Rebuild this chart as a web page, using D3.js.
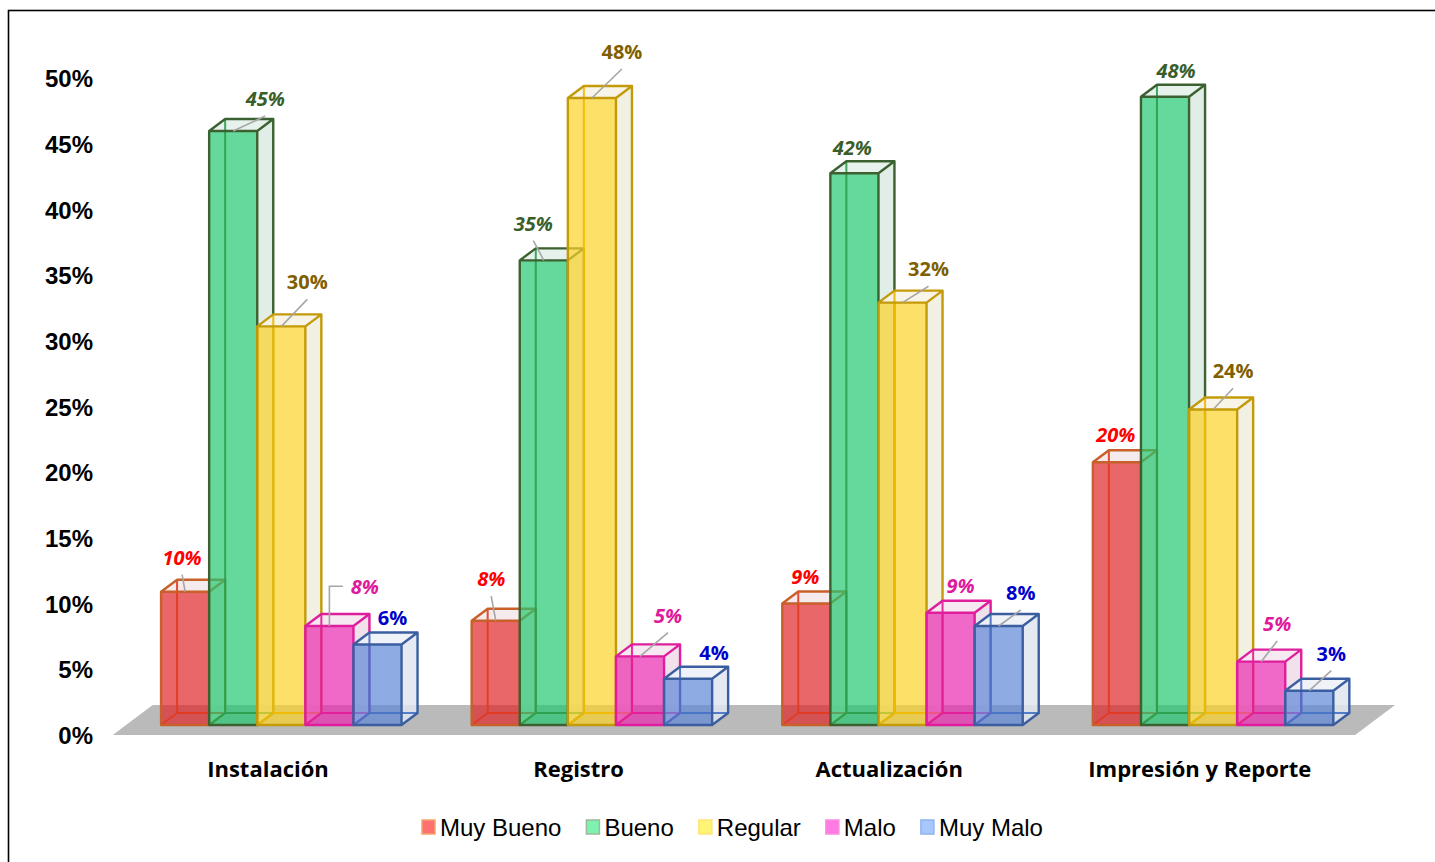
<!DOCTYPE html>
<html><head><meta charset="utf-8">
<script src="https://cdn.jsdelivr.net/npm/d3@7"></script>
<style>body{margin:0;background:#fff;} svg{display:block}</style>
</head><body>
<svg id="c" width="1435" height="862"></svg>
<script>
// ---- data ----
const categories = ["Instalación", "Registro", "Actualización", "Impresión y Reporte"];
const seriesNames = ["Muy Bueno", "Bueno", "Regular", "Malo", "Muy Malo"];
const muyBueno = [10.1, 7.9, 9.2, 19.9];
const bueno    = [45.0, 35.2, 41.8, 47.6];
const regular  = [30.2, 47.5, 32.0, 23.9];
const malo     = [7.5, 5.2, 8.5, 4.8];
const muyMalo  = [6.1, 3.5, 7.5, 2.6];
const yTicks = [0, 5, 10, 15, 20, 25, 30, 35, 40, 45, 50];

// ---- layout / style config ----
const seriesValues = [muyBueno, bueno, regular, malo, muyMalo];
const frontFill = ["#E0272A", "#24C970", "#FCD327", "#EA2AB0", "#5E88D8"];
const edgeOuter = ["#C8602A", "#3C6130", "#C49A08", "#DE1E9C", "#3A5EA0"];
const edgeInner = ["#E23A1E", "#2A9E4B", "#F2B900", "#E6199B", "#4472C4"];
const sideFill  = ["#F2E3E4", "#DCEBE3", "#F0ECDE", "#EEDCE7", "#E0E5EE"];
const topFill   = ["#F4E8EA", "#E6F1EB", "#F7F3E6", "#F5E7EF", "#EDF1F7"];
const legendFill   = ["#FF7070", "#7FF2B2", "#FFF474", "#FF7BE3", "#A6C8FF"];
const legendStroke = ["#F7A56E", "#9DB89A", "#FFE37A", "#FF8AE0", "#8FB4EC"];
const labelColor  = ["#FF0000", "#3A5E2A", "#7F6000", "#E0189C", "#0000CC"];
const labelItalic = [true, true, false, true, false];
// label offset from bar front-top centre: [dx, dy, leader]
const labelOffsets = [
  [[-3,-27,"line"], [32,-25,"line"], [26,-37,"line"], [35.5,-31.7,"elbow"], [15,-19,"none"]],
  [[-4.5,-34.7,"line"], [-10.5,-29.7,"line"], [30,-39,"line"], [28,-33.7,"line"], [26,-19,"none"]],
  [[-1,-20,"none"], [-2,-18.7,"none"], [26,-26.3,"line"], [10,-20,"none"], [22,-26,"line"]],
  [[-1,-20,"none"], [11,-18.3,"none"], [20,-31.3,"line"], [16,-30.7,"line"], [22,-30,"line"]]
];

const svg = d3.select("#c");
svg.append("rect").attr("x", 8.5).attr("y", 10.5).attr("width", 1450).attr("height", 880)
  .attr("fill", "#fff").attr("stroke", "#000").attr("stroke-width", 1.6);

const dX = 16, dY = 12;              // bar depth projection
const fFront = [-13.3, 10], fBack = [26.7, -20]; // floor edges relative to bar front plane

const x0 = d3.scaleBand().domain(categories).range([126, 1368.4]).paddingInner(0.2258).paddingOuter(0.1129);
const x1 = d3.scaleBand().domain(seriesNames).range([0, x0.bandwidth()]);
const y = d3.scaleLinear().domain([0, 50]).range([725, 65]);
const yAxisScale = d3.scaleLinear().domain([0, 50]).range([735, 78.5]);

// floor
const [r0, r1] = x0.range();
const base = y(0);
svg.append("polygon").attr("fill", "#BABABA")
  .attr("points", [
    [r0 + fFront[0], base + fFront[1]], [r1 + fFront[0], base + fFront[1]],
    [r1 + fBack[0], base + fBack[1]], [r0 + fBack[0], base + fBack[1]]
  ].map(p => p.join(",")).join(" "));

// y axis labels
const yAxis = svg.append("g").attr("transform", "translate(93,0)")
  .call(d3.axisLeft(yAxisScale).tickValues(yTicks).tickFormat(d => d + "%").tickSize(0).tickPadding(0));
yAxis.select(".domain").remove();
yAxis.selectAll("text").attr("font-family", "'Liberation Sans', Arial, sans-serif")
  .attr("font-size", 24).attr("font-weight", "bold").attr("fill", "#000").attr("dy", "0.35em");

// category labels
svg.append("g").selectAll("text").data(categories).join("text")
  .attr("x", d => x0(d) + x0.bandwidth() / 2 + fFront[0])
  .attr("y", 777)
  .attr("text-anchor", "middle")
  .attr("font-family", "'Open Sans', Lato, sans-serif").attr("font-weight", "bold")
  .attr("font-size", 22).attr("fill", "#000")
  .text(d => d);

// bars
const pts = a => a.map(p => p.join(",")).join(" ");
const barsG = svg.append("g");
const labelsG = svg.append("g");
categories.forEach((cat, i) => {
  seriesNames.forEach((s, j) => {
    const v = seriesValues[j][i];
    const xa = x0(cat) + x1(s), xb = xa + x1.bandwidth();
    const top = y(v), bot = y(0);
    const g = barsG.append("g");
    // right side face
    g.append("polygon").attr("points", pts([[xb, top], [xb + dX, top - dY], [xb + dX, bot - dY], [xb, bot]]))
      .attr("fill", sideFill[j]).attr("fill-opacity", 0.85);
    // top face
    g.append("polygon").attr("points", pts([[xa, top], [xa + dX, top - dY], [xb + dX, top - dY], [xb, top]]))
      .attr("fill", topFill[j]).attr("fill-opacity", 0.9);
    // front face
    g.append("rect").attr("x", xa).attr("y", top).attr("width", xb - xa).attr("height", bot - top)
      .attr("fill", frontFill[j]).attr("fill-opacity", 0.7);
    // hidden (back) edges seen through
    g.append("path").attr("fill", "none").attr("stroke", edgeInner[j]).attr("stroke-width", 2)
      .attr("stroke-opacity", 0.9)
      .attr("d", `M${xa + dX},${top - dY}V${bot - dY}H${xb + dX}M${xa},${bot}L${xa + dX},${bot - dY}`);
    // visible edges
    g.append("path").attr("fill", "none").attr("stroke", edgeOuter[j]).attr("stroke-width", 2.4)
      .attr("stroke-linejoin", "round")
      .attr("d", `M${xa},${bot}V${top}H${xb}V${bot}Z M${xa},${top}L${xa + dX},${top - dY}H${xb + dX}L${xb},${top} M${xb + dX},${top - dY}V${bot - dY}L${xb},${bot}`);

    // label
    const cx = (xa + xb) / 2;
    const [odx, ody, leader] = labelOffsets[i][j];
    const lx = cx + odx, ly = top + ody;
    const t = labelsG.append("text").attr("x", lx).attr("y", ly).attr("text-anchor", "middle")
      .attr("font-family", "'Open Sans', Lato, sans-serif").attr("font-weight", "bold")
      .attr("font-style", labelItalic[j] ? "italic" : "normal")
      .attr("font-size", 20).attr("fill", labelColor[j])
      .text(Math.round(v) + "%");
    if (leader === "line") {
      labelsG.append("line").attr("x1", cx).attr("y1", top).attr("x2", lx).attr("y2", ly + 10)
        .attr("stroke", "#A6A6A6").attr("stroke-width", 1.6);
    } else if (leader === "elbow") {
      const w = t.node().getComputedTextLength();
      labelsG.append("path").attr("fill", "none").attr("stroke", "#A6A6A6").attr("stroke-width", 1.6)
        .attr("d", `M${cx},${top}V${ly - 8}H${lx - w / 2 - 8}`);
    }
  });
});

// legend
const legend = svg.append("g");
let lxPos = 422;
seriesNames.forEach((s, j) => {
  legend.append("rect").attr("x", lxPos).attr("y", 820).attr("width", 13).attr("height", 14)
    .attr("fill", legendFill[j]).attr("stroke", legendStroke[j]).attr("stroke-width", 1.5);
  const t = legend.append("text").attr("x", lxPos + 18).attr("y", 835.5)
    .attr("font-family", "'Liberation Sans', Arial, sans-serif").attr("font-size", 24)
    .attr("fill", "#000").text(s);
  lxPos += 18 + t.node().getComputedTextLength() + 25;
});
</script></body></html>
